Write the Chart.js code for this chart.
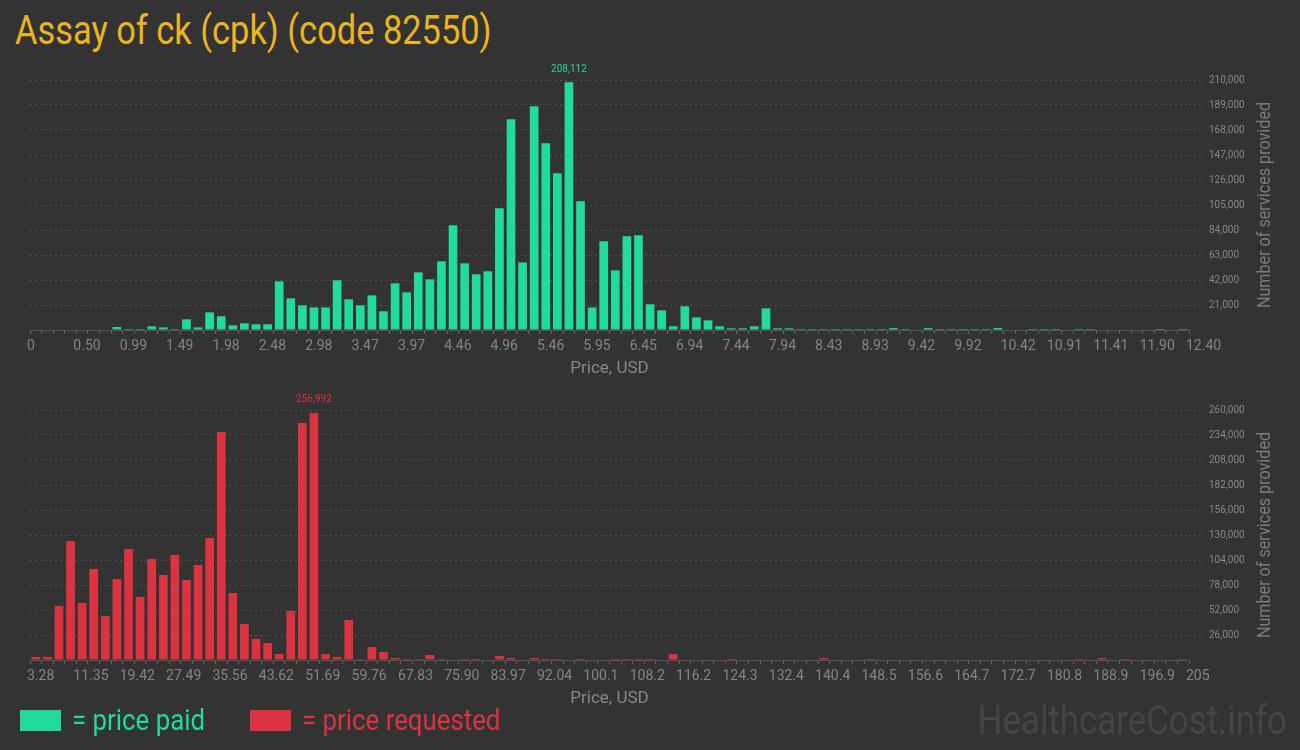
<!DOCTYPE html>
<html>
<head>
<meta charset="utf-8">
<script src="https://cdn.jsdelivr.net/npm/chart.js@4.4.1/dist/chart.umd.min.js"></script>
<style>
  html, body { margin: 0; padding: 0; background: #333333; }
  body { width: 1300px; height: 750px; position: relative; overflow: hidden; font-family: Roboto, sans-serif; }
  .box { position: absolute; left: 0; width: 1300px; height: 320px; }
  #title { position: absolute; left: 15px; top: 11px; font-size: 40px; line-height: 40px; color: #ecb51f;
           white-space: nowrap; transform: scaleX(0.86); transform-origin: left top; }
  .key { position: absolute; top: 710px; width: 41px; height: 21px; }
  .keytext { position: absolute; top: 705px; font-size: 30px; line-height: 30px; white-space: nowrap;
             transform: scaleX(0.86); transform-origin: left top; }
  #mark { position: absolute; right: 13px; top: 700px; font-size: 41px; line-height: 41px; color: #464646;
          white-space: nowrap; transform: scaleX(0.85); transform-origin: right top; }
</style>
</head>
<body>
<div id="title">Assay of ck (cpk) (code 82550)</div>
<div class="box" style="top:60px"><canvas id="paidChart"></canvas></div>
<div class="box" style="top:390px"><canvas id="requestedChart"></canvas></div>
<div class="key" style="left:20px;background:#21db9a"></div>
<div class="keytext" style="left:72px;color:#21db9a">= price paid</div>
<div class="key" style="left:250px;background:#dc3341"></div>
<div class="keytext" style="left:302px;color:#dc3341">= price requested</div>
<div id="mark">HealthcareCost.info</div>

<script>
// price paid histogram: 100 bins from 0 to 12.40 USD
const paidBinStart = 0;
const paidBinWidth = 0.124;
const paidCounts = [
  0, 0, 0, 0, 0, 0, 0, 2500, 800, 800,
  3100, 2200, 800, 9000, 2200, 14800, 11500, 3900, 5600, 4800,
  4800, 40900, 26600, 20700, 19000, 19000, 41700, 25800, 20700, 29100,
  15700, 39200, 31600, 48400, 42600, 57700, 87900, 56000, 46800, 49300,
  102200, 177000, 56800, 187900, 156800, 131600, 208112, 108100, 19000, 74500,
  50100, 78700, 79500, 21600, 16500, 3100, 19900, 10600, 8100, 3100,
  1400, 1400, 3100, 18200, 1400, 1400, 800, 800, 800, 800,
  800, 800, 800, 800, 1600, 800, 0, 1600, 800, 800,
  800, 800, 800, 1700, 0, 0, 800, 800, 800, 0,
  800, 800, 0, 0, 0, 0, 0, 800, 0, 800
];
const paidTickLabels = ['0', '0.50', '0.99', '1.49', '1.98', '2.48', '2.98', '3.47', '3.97', '4.46',
  '4.96', '5.46', '5.95', '6.45', '6.94', '7.44', '7.94', '8.43', '8.93', '9.42',
  '9.92', '10.42', '10.91', '11.41', '11.90', '12.40'];

// price requested histogram: 100 bins from 3.28 to 205 USD
const requestedBinStart = 3.28;
const requestedBinWidth = 2.0172;
const requestedCounts = [
  3100, 3100, 56200, 123800, 59300, 94600, 45800, 84200, 115400, 65500,
  105000, 88400, 109200, 83200, 98800, 126900, 237100, 69700, 37400, 21800,
  17700, 6200, 51000, 246500, 256992, 6200, 3100, 41600, 1000, 13500,
  8300, 2000, 1000, 1000, 5200, 1000, 0, 1000, 1000, 0,
  4200, 2000, 0, 2000, 1000, 1000, 0, 1000, 0, 0,
  1000, 1000, 1000, 1000, 0, 6200, 0, 0, 0, 0,
  1000, 0, 0, 0, 0, 0, 0, 0, 2000, 0,
  0, 0, 1000, 0, 0, 0, 0, 0, 0, 0,
  0, 0, 0, 0, 0, 0, 0, 0, 0, 0,
  1000, 0, 2000, 0, 1000, 0, 0, 0, 0, 1000
];
const requestedTickLabels = ['3.28', '11.35', '19.42', '27.49', '35.56', '43.62', '51.69', '59.76', '67.83', '75.90',
  '83.97', '92.04', '100.1', '108.2', '116.2', '124.3', '132.4', '140.4', '148.5', '156.6',
  '164.7', '172.7', '180.8', '188.9', '196.9', '205'];

// value of the tallest bar printed above it
const peakLabel = {
  id: 'peakLabel',
  afterDatasetsDraw(chart, args, opts) {
    const data = chart.data.datasets[0].data;
    let best = 0;
    data.forEach((d, i) => { if (d.y > data[best].y) best = i; });
    const bar = chart.getDatasetMeta(0).data[best];
    const ctx = chart.ctx;
    ctx.save();
    ctx.font = '10px Roboto';
    ctx.fillStyle = opts.color;
    ctx.textAlign = 'center';
    ctx.textBaseline = 'middle';
    ctx.fillText(data[best].y.toLocaleString('en-US'), bar.x, bar.y - 13);
    ctx.restore();
  }
};

// right-hand axis title, reading bottom to top
const sideTitle = {
  id: 'sideTitle',
  afterDraw(chart) {
    const ctx = chart.ctx;
    const a = chart.chartArea;
    ctx.save();
    ctx.translate(chart.width - 35, (a.top + a.bottom) / 2);
    ctx.rotate(-Math.PI / 2);
    ctx.scale(0.85, 1);
    ctx.font = '19px Roboto';
    ctx.fillStyle = '#7c7c7c';
    ctx.textAlign = 'center';
    ctx.textBaseline = 'middle';
    ctx.fillText('Number of services provided', 0, 0);
    ctx.restore();
  }
};

function makeHistogram(id, counts, binStart, binWidth, tickLabels, yMax, yStep, color) {
  const points = counts.map((c, i) => ({ x: binStart + binWidth * (i + 0.5), y: c }));
  const edges = [];
  for (let i = 0; i <= counts.length; i++) edges.push(binStart + binWidth * i);

  return new Chart(document.getElementById(id), {
    type: 'bar',
    data: {
      datasets: [{
        data: points,
        backgroundColor: color,
        borderWidth: 0,
        barPercentage: 0.75,
        categoryPercentage: 1
      }]
    },
    options: {
      responsive: true,
      maintainAspectRatio: false,
      animation: false,
      layout: { padding: { left: 30, top: 20, right: 0, bottom: 0 } },
      plugins: {
        legend: { display: false },
        tooltip: { enabled: false },
        peakLabel: { color: color }
      },
      scales: {
        x: {
          type: 'linear',
          offset: false,
          min: binStart,
          max: edges[edges.length - 1],
          afterBuildTicks: (s) => { s.ticks = edges.map(v => ({ value: v })); },
          afterFit: (s) => { s.height = 50; },
          ticks: {
            autoSkip: false,
            maxRotation: 0,
            minRotation: 0,
            align: 'start',
            labelOffset: -3,
            padding: 4,
            color: '#858585',
            font: { family: 'Roboto', size: 14 },
            callback: (v, i) => (i % 4 === 0 ? tickLabels[i / 4] : '')
          },
          grid: {
            offset: false,
            drawOnChartArea: false,
            drawTicks: true,
            tickLength: 4,
            tickColor: '#666'
          },
          border: { display: true, color: '#555' },
          title: {
            display: true,
            text: 'Price, USD',
            color: '#888',
            font: { family: 'Roboto', size: 17 },
            padding: { top: 0, bottom: 1 }
          }
        },
        y: {
          position: 'right',
          min: 0,
          max: yMax,
          afterFit: (s) => { s.width = 111; },
          ticks: {
            stepSize: yStep,
            padding: 6,
            color: '#888',
            font: { family: 'Roboto', size: 10 },
            callback: (v) => (v === 0 ? '' : v.toLocaleString('en-US'))
          },
          grid: {
            color: (c) => (c.tick && c.tick.value === 0 ? 'transparent' : '#505050'),
            tickColor: (c) => (c.tick && c.tick.value === 0 ? 'transparent' : '#505050'),
            tickLength: 14,
            tickBorderDash: [2, 3]
          },
          border: { display: false, dash: [2, 3] }
        }
      }
    },
    plugins: [peakLabel, sideTitle]
  });
}

makeHistogram('paidChart', paidCounts, paidBinStart, paidBinWidth, paidTickLabels, 210000, 21000, '#21db9a');
makeHistogram('requestedChart', requestedCounts, requestedBinStart, requestedBinWidth, requestedTickLabels, 260000, 26000, '#dc3341');
</script>
</body>
</html>
